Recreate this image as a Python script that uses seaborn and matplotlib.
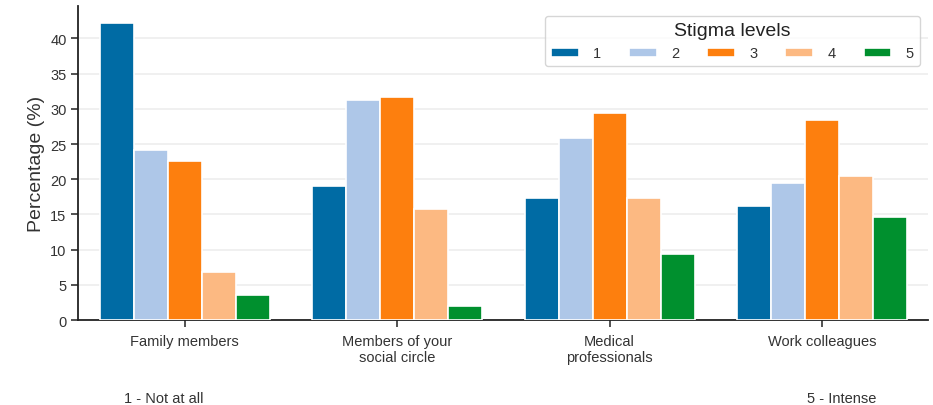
import pandas as pd
import matplotlib
matplotlib.use('Agg')
import matplotlib.pyplot as plt
import seaborn as sns

# Values (percent)
groups = ['Family members', 'Members of your\nsocial circle',
          'Medical\nprofessionals', 'Work colleagues']
levels = ['1', '2', '3', '4', '5']
level_1 = [42.2, 19.0, 17.3, 16.2]
level_2 = [24.2, 31.2, 25.8, 19.4]
level_3 = [22.6, 31.6, 29.4, 28.4]
level_4 = [6.8, 15.8, 17.3, 20.5]
level_5 = [3.6, 2.0, 9.4, 14.7]

colors = ['#006ba4', '#aec7e8', '#fd7f0e', '#fcb982', '#00902e']

rows = []
for lev, vals in zip(levels, [level_1, level_2, level_3, level_4, level_5]):
    for g, v in zip(groups, vals):
        rows.append({'group': g, 'level': lev, 'pct': v})
df = pd.DataFrame(rows)

sns.set_style('ticks')
plt.rcParams['font.family'] = ['Liberation Sans', 'DejaVu Sans']

fig = plt.figure(figsize=(9.33, 4.06), dpi=100)
ax = fig.add_axes([0.084, 0.209, 0.911, 0.774])

sns.barplot(data=df, x='group', y='pct', hue='level', order=groups,
            hue_order=levels, palette=colors, width=0.8,
            edgecolor='white', linewidth=1.2, saturation=1, ax=ax, zorder=3)

ax.set(ylim=(0, 44.6), xlim=(-0.5, 3.5), xlabel='', ylabel='Percentage (%)')
ax.yaxis.label.set_size(14)
ax.yaxis.label.set_color('#333333')
ax.set_yticks(range(0, 45, 5))
ax.grid(axis='y', color='#eeeeee', linewidth=1.2, zorder=0)
ax.tick_params(axis='both', labelsize=10.5, colors='#333333', width=1.2, length=5)
ax.tick_params(axis='x', pad=5)
for s in ['left', 'bottom']:
    ax.spines[s].set_color('#222222')
    ax.spines[s].set_linewidth(1.3)
sns.despine(ax=ax)

leg = ax.legend(title='Stigma levels', ncol=5, loc='upper right',
                bbox_to_anchor=(0.9985, 0.99), fontsize=10.5, title_fontsize=14,
                handlelength=1.9, handleheight=0.55, columnspacing=1.9,
                frameon=True, fancybox=True, edgecolor='#cccccc',
                borderpad=0.4, handletextpad=1.0)
for t in leg.get_texts():
    t.set_color('#333333')
leg.get_title().set_color('#222222')

fig.text(0.175, 0.008, '1 - Not at all', ha='center', fontsize=10.5, color='#333333')
fig.text(0.902, 0.008, '5 - Intense', ha='center', fontsize=10.5, color='#333333')

plt.savefig('out.png', dpi=100)
